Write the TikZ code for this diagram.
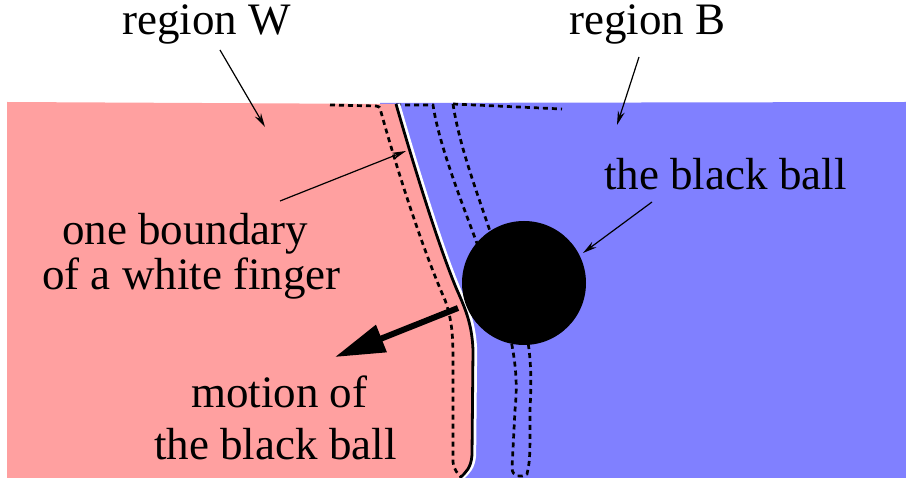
\documentclass[tikz,border=0pt]{standalone}
\usepackage{fontspec}
\setmainfont{Liberation Serif}
\usetikzlibrary{arrows.meta}
\definecolor{pinkW}{RGB}{255,160,160}
\definecolor{blueB}{RGB}{128,128,255}
\tikzset{
  lbl/.style={anchor=base west, inner sep=0pt, font=\fontsize{45}{45}\selectfont},
  thinarrow/.style={line width=1.2pt, -{Stealth[length=14pt,width=7pt]}},
  dotline/.style={line width=2.7pt, dash pattern=on 5pt off 4pt},
}
\begin{document}
\begin{tikzpicture}[x=1pt,y=-1pt]
\useasboundingbox (0,0) rectangle (906,478);
% regions
\fill[blueB] (380,103) -- (906,102) -- (906,478) -- (440,478) -- cycle;
\fill[pinkW] (7,102) -- (396,104) .. controls (415,170) and (440,250) .. (457,290)
  .. controls (466,310) and (472,325) .. (473,350) -- (472,455)
  .. controls (471,468) and (466,472) .. (460,478) -- (7,478) -- cycle;
% dashed lines
\draw[dotline] (330,105) -- (376,106) .. controls (380,107) .. (381,112)
  .. controls (400,180) and (425,255) .. (445,300)
  .. controls (452,320) and (453,335) .. (453,360) -- (453,462)
  .. controls (454,470) and (458,474) .. (461,477);
\draw[dotline] (396,105) -- (433,105) .. controls (440,150) and (465,210) .. (485,265);
\draw[dotline] (453,104) -- (562,109);
\draw[dotline] (453,104) .. controls (460,150) and (480,200) .. (498,255);
\draw[dotline] (510,335) .. controls (515,360) and (518,380) .. (515,410) -- (512,468)
  .. controls (512,477) and (522,478) .. (527,474)
  .. controls (530,460) .. (530,410) .. controls (532,370) and (530,355) .. (527,335);
% boundary of white finger
\draw[white, line width=3.5pt, xshift=2.4pt] (396,104) .. controls (415,170) and (440,250) .. (457,290)
  .. controls (466,310) and (472,325) .. (473,350) -- (472,455)
  .. controls (471,468) and (466,472) .. (460,478);
\draw[black, line width=2.8pt] (396,104) .. controls (415,170) and (440,250) .. (457,290)
  .. controls (466,310) and (472,325) .. (473,350) -- (472,455)
  .. controls (471,468) and (466,472) .. (460,478);
% ball
\node[circle, fill=black, minimum size=124pt, inner sep=0pt] (ball) at (524,283) {};
% labels
\node[lbl] (regW) at (122,35) {region W};
\node[lbl] (regB) at (569,35) {region B};
\node[lbl] (ballLbl) at (604,190) {the black ball};
\node[lbl] (bnd1) at (62,245) {one boundary};
\node[lbl] (bnd2) at (42,290) {of a white finger};
\node[lbl] (mot1) at (191,408) {motion of};
\node[lbl] (mot2) at (154,460) {the black ball};
% arrow coordinates
\coordinate (wTail) at (220,50);
\coordinate (wTip) at (265,127);
\coordinate (bTail) at (639,57);
\coordinate (bTip) at (617,125);
\coordinate (ballTail) at (652,202);
\coordinate (ballTip) at (583,253);
\coordinate (fTail) at (280,201);
\coordinate (fTip) at (406,151);
\coordinate (mTail) at (458,308);
\coordinate (mTip) at (335,357);
\draw[thinarrow] (wTail) -- (wTip);
\draw[thinarrow] (bTail) -- (bTip);
\draw[thinarrow] (ballTail) -- (ballTip);
\draw[thinarrow] (fTail) -- (fTip);
\draw[line width=6pt, -{Triangle[length=50pt,width=28pt]}] (mTail) -- (mTip);
\end{tikzpicture}
\end{document}
